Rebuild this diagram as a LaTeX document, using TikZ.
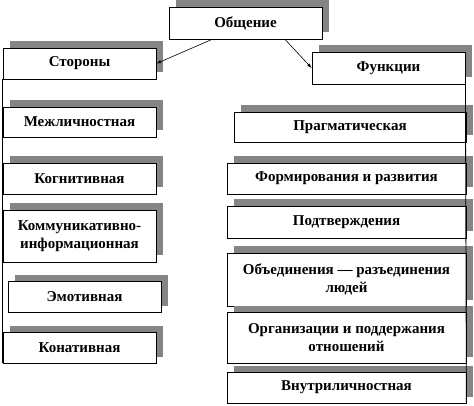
\documentclass[tikz,border=0pt]{standalone}
\usepackage{fontspec}
\setmainfont{Liberation Serif}
\usetikzlibrary{shadows}
\tikzset{
  caja/.style={draw, line width=0.8pt, fill=white, inner sep=0pt, align=center,
    minimum width=153pt, minimum height=31pt,
    font=\bfseries\fontsize{15}{18}\selectfont,
    drop shadow={shadow xshift=7pt, shadow yshift=6.5pt, fill=black!48, opacity=1}},
  cajader/.style={caja, minimum width=239pt},
}
\begin{document}
\begin{tikzpicture}[x=1pt, y=-1pt]
    \useasboundingbox (0,0) rectangle (474,406);
    % Caja superior
    \node[caja, minimum height=32pt] (obsh) at (245.5,23) {Общение};
    % Columna izquierda
    \node[caja] (storony) at (79.5,63.5) {Стороны};
    \node[caja, minimum height=30pt] (mezh) at (79.5,122) {Межличностная};
    \node[caja] (kogn) at (79.5,178.5) {Когнитивная};
    \node[caja, minimum height=52pt] (komm) at (79.5,236) {Коммуникативно-\\информационная};
    \node[caja] (emot) at (84.5,296.5) {Эмотивная};
    \node[caja] (konat) at (79.5,347.5) {Конативная};
    % Columna derecha
    \node[caja, minimum height=32pt] (funkcii) at (388.5,68) {Функции};
    \node[cajader, minimum width=232pt, minimum height=30pt] (prag) at (350,127) {Прагматическая};
    \node[cajader] (form) at (346.5,178.5) {Формирования и развития};
    \node[cajader, minimum height=32pt] (podtv) at (346.5,222) {Подтверждения};
    \node[cajader, minimum height=53pt] (obed) at (346.5,279.5) {Объединения — разъединения\\людей};
    \node[cajader, minimum height=51pt] (org) at (346.5,337.5) {Организации и поддержания\\отношений};
    \node[cajader] (vnutr) at (346.5,387.5) {Внутриличностная};
    % Lineas verticales
    \draw[line width=0.8pt] (storony.south west) -- (konat.south west);
    \draw[line width=0.8pt] (funkcii.south east) -- (vnutr.south east);
    % Flechas
    \draw[line width=0.6pt,-latex] ([xshift=-33.5pt]obsh.south) -- (storony.east);
    \draw[line width=0.6pt,-latex] ([xshift=39.5pt]obsh.south) -- (funkcii.west);
\end{tikzpicture}
\end{document}
